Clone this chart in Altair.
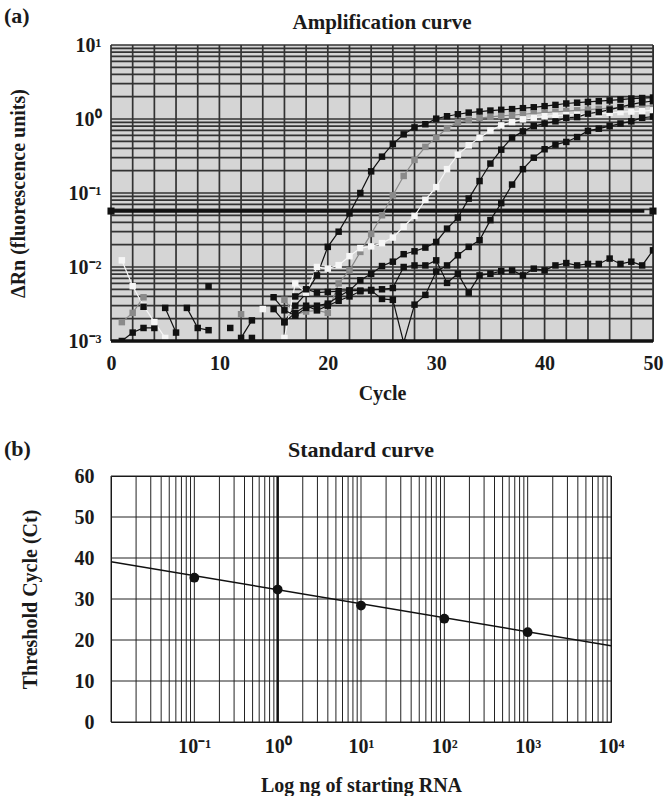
import altair as alt
import pandas as pd

SERIF = "Liberation Serif"
INK = "#1a1a1a"

# ---------------- (a) Amplification curve data ----------------
cycles = list(range(1, 51))
series_names = ["A", "B", "C", "D", "E", "F"]
series_colors = ["#111111", "#8a8a8a", "#f6f6f6", "#111111", "#111111", "#111111"]
N = None

amp_a = [0.0010, 0.0013, 0.0015, 0.0015, N, N, N, N, 0.0055, N,
         0.0015, N, N, N, 0.0027, 0.0018, 0.0030, 0.0044, 0.0077, 0.0187,
         0.030, 0.053, 0.10, 0.196, 0.31, 0.46, 0.62, 0.77, 0.85, 1.01,
         1.09, 1.16, 1.22, 1.26, 1.30, 1.33, 1.36, 1.40, 1.44, 1.49,
         1.55, 1.62, 1.66, 1.70, 1.74, 1.78, 1.83, 1.89, 1.92, 1.95]
amp_b = [0.0018, 0.0024, 0.0039, N, N, N, N, N, N, N,
         N, 0.0023, N, N, N, 0.0036, 0.0023, 0.0025, 0.0026, 0.0024,
         0.006, 0.009, 0.016, 0.028, 0.050, 0.093, 0.17, 0.28, 0.42, 0.56,
         0.75, 0.90, 0.98, 1.03, 1.07, 1.10, 1.13, 1.16, 1.19, 1.22,
         1.25, 1.28, 1.31, 1.34, 1.37, 1.40, 1.43, 1.46, 1.49, 1.52]
amp_c = [0.0123, 0.0055, 0.0030, 0.0018, 0.0011, N, N, N, N, N,
         N, N, N, 0.0027, N, 0.0011, 0.0060, 0.0045, 0.0100, 0.0095,
         0.0106, 0.0140, 0.0180, 0.0190, 0.0210, 0.0250, 0.035, 0.049, 0.081, 0.12,
         0.21, 0.33, 0.44, 0.56, 0.70, 0.82, 0.91, 0.99, 1.04, 1.09,
         1.11, 1.13, 1.15, 1.17, 1.19, 1.21, 1.24, 1.26, 1.28, 1.31]
amp_d = [N, N, 0.0029, N, 0.0028, 0.0013, N, N, N, N,
         N, 0.0011, 0.0019, N, 0.0039, 0.0026, 0.0022, 0.0028, 0.0030, 0.0032,
         0.0040, 0.0048, 0.0066, 0.0081, 0.0103, 0.0118, 0.0149, 0.0163, 0.0183, 0.0218,
         0.033, 0.0465, 0.084, 0.145, 0.25, 0.385, 0.56, 0.68, 0.80, 0.87,
         0.93, 1.04, 1.06, 1.18, 1.24, 1.34, 1.45, 1.58, 1.68, 1.75]
amp_e = [N, N, N, N, N, N, 0.0028, 0.0015, 0.0014, N,
         N, N, 0.0011, N, N, 0.0018, 0.0024, 0.0030, 0.0026, 0.0030,
         0.0035, 0.0040, 0.0047, 0.0048, 0.0037, 0.0036, 0.00095, 0.0031, 0.0042, 0.0087,
         0.0105, 0.0144, 0.0187, 0.023, 0.043, 0.073, 0.13, 0.21, 0.30, 0.39,
         0.45, 0.49, 0.57, 0.69, 0.74, 0.80, 0.87, 0.93, 1.04, 1.08]
amp_f = [N, N, N, N, N, N, N, N, N, N,
         N, N, N, N, N, N, 0.0040, 0.0050, 0.0045, 0.0046,
         0.0047, 0.0048, 0.0048, 0.0049, 0.0050, 0.0052, 0.0100, 0.0105, 0.0105, 0.0123,
         0.0061, 0.0081, 0.0045, 0.0077, 0.0081, 0.0088, 0.0090, 0.0077, 0.0095, 0.0090,
         0.0105, 0.0113, 0.0105, 0.0110, 0.0110, 0.0130, 0.0110, 0.0118, 0.0105, 0.0168]

threshold = 0.057
threshold_start, threshold_end = 0, 49.2
grid_cycles = list(range(0, 51, 2))
grid_dRn = [m * 10.0 ** e for e in (-3, -2, -1, 0) for m in range(1, 10)] + [10.0]
dRn_ticks = [0.001, 0.01, 0.1, 1, 10]
cycle_ticks = [0, 10, 20, 30, 40, 50]

# ---------------- (b) Standard curve data ----------------
std_rna = [0.1, 1, 10, 100, 1000]
std_ct = [35.2, 32.3, 28.4, 25.2, 21.9]
fit_rna = [0.01, 10000]
fit_ct = [39.1, 18.6]
grid_rna = [m * 10.0 ** e for e in range(-2, 4) for m in range(1, 10)] + [10000.0]
grid_ct = [0, 10, 20, 30, 40, 50, 60]
rna_ticks = [0.1, 1, 10, 100, 1000, 10000]

# ---------------- build tables ----------------
rows = []
for name, vals in zip(series_names, [amp_a, amp_b, amp_c, amp_d, amp_e, amp_f]):
    for c, v in zip(cycles, vals):
        rows.append({"cycle": c, "value": v, "series": name})
amp_df = pd.DataFrame(rows)

TW, TH = 542, 296
BW, BH = 500, 246

AX = dict(labelFont=SERIF, titleFont=SERIF, labelFontWeight="bold", titleFontWeight="bold",
          labelFontSize=20, titleFontSize=20, labelColor=INK, titleColor=INK,
          grid=False, ticks=False, domain=False)

x_top = alt.X("cycle:Q",
              scale=alt.Scale(domain=[0, 50], nice=False, zero=False),
              axis=alt.Axis(values=cycle_ticks, title="Cycle", labelPadding=12,
                            titlePadding=10, labelFlush=False, format="d", **AX))
y_top = alt.Y("value:Q",
              scale=alt.Scale(type="log", domain=[0.001, 10], nice=False),
              axis=alt.Axis(values=dRn_ticks, title="ΔRn (fluorescence units)",
                            labelPadding=10, titlePadding=40,
                            labelExpr="datum.value < 0.005 ? '10⁻³' : datum.value < 0.05 ? '10⁻²' : datum.value < 0.5 ? '10⁻¹' : datum.value < 5 ? '10⁰' : '10¹'",
                            **AX))

one = pd.DataFrame({"k": [0]})
bg = alt.Chart(one).mark_rect(color="#d5d5d5").encode(
    x=alt.value(0), x2=alt.value(TW), y=alt.value(0), y2=alt.value(TH))
vgrid = alt.Chart(pd.DataFrame({"cycle": grid_cycles})).mark_rule(
    color="#333333", strokeWidth=1.7).encode(x=x_top)
hgrid = alt.Chart(pd.DataFrame({"value": grid_dRn})).mark_rule(
    color="#333333", strokeWidth=1.7).encode(y=y_top)
thr = alt.Chart(pd.DataFrame({"cycle": [threshold_start], "cycle_end": [threshold_end],
                              "value": [threshold]})).mark_rule(
    color="#111", strokeWidth=3.5).encode(x=x_top, x2="cycle_end:Q", y=y_top)
thr_handles = alt.Chart(pd.DataFrame({"cycle": [0, 50], "value": [threshold, threshold]})).mark_square(
    color="#111", size=50, opacity=1).encode(x=x_top, y=y_top)
color = alt.Color("series:N", scale=alt.Scale(domain=series_names, range=series_colors), legend=None)
lines = alt.Chart(amp_df).mark_line(strokeWidth=1.2, clip=True,
                                    invalid="break-paths-filter-domains").encode(
    x=x_top, y=y_top, color=color)
pts = alt.Chart(amp_df).mark_square(size=42, opacity=1, clip=True).encode(
    x=x_top, y=y_top, color=color)
bottom_edge = alt.Chart(pd.DataFrame({"value": [0.001]})).mark_rule(
    color="#111", strokeWidth=3.5).encode(y=y_top)
lab_a = alt.Chart(pd.DataFrame({"t": ["(a)"]})).mark_text(
    font=SERIF, fontWeight="bold", fontSize=22, align="left", baseline="alphabetic", color=INK).encode(
    text="t:N", x=alt.value(-107), y=alt.value(-22))
ttl_a = alt.Chart(pd.DataFrame({"t": ["Amplification curve"]})).mark_text(
    font=SERIF, fontWeight="bold", fontSize=21, align="center", baseline="alphabetic", color=INK).encode(
    text="t:N", x=alt.value(TW / 2), y=alt.value(-16))

top = alt.layer(bg, vgrid, hgrid, thr, lines, pts, thr_handles, bottom_edge, lab_a, ttl_a).properties(
    width=TW, height=TH)

# ---------------- bottom chart ----------------
x_bot = alt.X("rna:Q",
              scale=alt.Scale(type="log", domain=[0.01, 10000], nice=False),
              axis=alt.Axis(values=rna_ticks, title="Log ng of starting RNA", labelPadding=14,
                            titlePadding=19, labelFlush=False,
                            labelExpr="datum.value < 0.5 ? '10⁻¹' : datum.value < 5 ? '10⁰' : datum.value < 50 ? '10¹' : datum.value < 500 ? '10²' : datum.value < 5000 ? '10³' : '10⁴'",
                            **AX))
y_bot = alt.Y("ct:Q",
              scale=alt.Scale(domain=[0, 60], nice=False, zero=True),
              axis=alt.Axis(values=grid_ct, title="Threshold Cycle (Ct)", labelPadding=17,
                            titlePadding=34, format="d", **AX))

bv = alt.Chart(pd.DataFrame({"rna": grid_rna})).mark_rule(color="#222", strokeWidth=1).encode(x=x_bot)
bh = alt.Chart(pd.DataFrame({"ct": grid_ct})).mark_rule(color="#222", strokeWidth=1).encode(y=y_bot)
bone = alt.Chart(pd.DataFrame({"rna": [1]})).mark_rule(color="#111", strokeWidth=2.5).encode(x=x_bot)
fit = alt.Chart(pd.DataFrame({"rna": fit_rna, "ct": fit_ct})).mark_line(
    color="#111", strokeWidth=1.5, clip=True).encode(x=x_bot, y=y_bot)
spts = alt.Chart(pd.DataFrame({"rna": std_rna, "ct": std_ct})).mark_circle(
    color="#111", size=95, opacity=1).encode(x=x_bot, y=y_bot)
lab_b = alt.Chart(pd.DataFrame({"t": ["(b)"]})).mark_text(
    font=SERIF, fontWeight="bold", fontSize=22, align="left", baseline="alphabetic", color=INK).encode(
    text="t:N", x=alt.value(-107), y=alt.value(-20))
ttl_b = alt.Chart(pd.DataFrame({"t": ["Standard curve"]})).mark_text(
    font=SERIF, fontWeight="bold", fontSize=22, align="center", baseline="alphabetic", color=INK).encode(
    text="t:N", x=alt.value(BW / 2), y=alt.value(-19))

bottom = alt.layer(bv, bh, bone, fit, spts, lab_b, ttl_b).properties(width=BW, height=BH)

chart = alt.vconcat(top, bottom, spacing=33).properties(
    padding={"left": 3, "top": 4, "right": 0, "bottom": 0}, background="white"
).configure_view(stroke="#111", strokeWidth=1)

chart.save("out.html", embed_options={"renderer": "svg", "actions": False})
